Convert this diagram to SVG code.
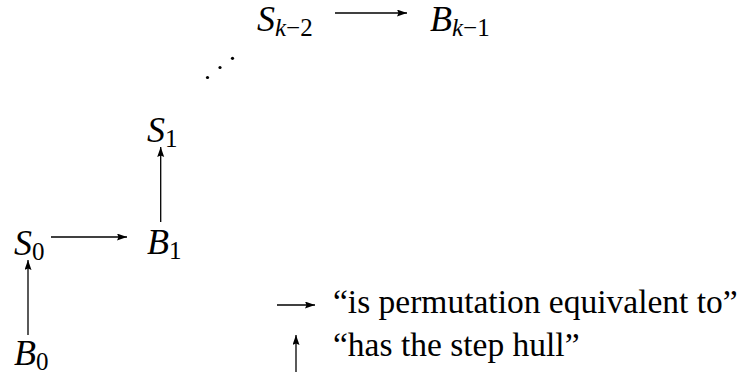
<svg xmlns="http://www.w3.org/2000/svg" width="746" height="379" viewBox="0 0 746 379">
<style>
.m{font-style:italic;font-size:36px;fill:#000}
.s{font-size:25px}
.r{font-style:normal}
.t{font-size:33.5px;fill:#000}
.c{stroke:#000;stroke-width:1.3;fill:none;marker-end:url(#ah)}
</style>
<defs>
<marker id="ah" markerUnits="userSpaceOnUse" markerWidth="11" markerHeight="8" refX="10" refY="3.5" orient="auto">
<path d="M0,0 L10,3.5 L0,7 L1.5,3.5 z" fill="#000"/>
</marker>
</defs>
<g id="B0"><text class="m" font-family="Liberation Serif, serif" x="14" y="365">B<tspan class="s r" dy="5">0</tspan></text></g>
<g id="S0"><text class="m" font-family="Liberation Serif, serif" x="14" y="255">S<tspan class="s r" dy="5">0</tspan></text></g>
<g id="B1"><text class="m" font-family="Liberation Serif, serif" x="147" y="254">B<tspan class="s r" dy="5">1</tspan></text></g>
<g id="S1"><text class="m" font-family="Liberation Serif, serif" x="147" y="142">S<tspan class="s r" dy="5">1</tspan></text></g>
<g id="Sk2"><text class="m" font-family="Liberation Serif, serif" x="257" y="31">S<tspan class="s" dy="5">k</tspan><tspan class="s r">−2</tspan></text></g>
<g id="Bk1"><text class="m" font-family="Liberation Serif, serif" x="430" y="31">B<tspan class="s" dy="5">k</tspan><tspan class="s r">−1</tspan></text></g>
<g id="dots" fill="#000">
<circle cx="207.5" cy="77.5" r="1.6"/>
<circle cx="220" cy="67.5" r="1.6"/>
<circle cx="232.5" cy="58.3" r="1.6"/>
</g>
<g id="connectors">
<line class="c" x1="28" y1="335" x2="28" y2="260"/>
<line class="c" x1="51" y1="237" x2="127" y2="237"/>
<line class="c" x1="160.7" y1="222" x2="160.7" y2="147"/>
<line class="c" x1="335" y1="13" x2="407" y2="13"/>
</g>
<g id="legend">
<line class="c" x1="277" y1="305" x2="315" y2="305"/>
<line class="c" x1="296" y1="372" x2="296" y2="335"/>
<text class="t" font-family="Liberation Serif, serif" x="333" y="313">“is permutation equivalent to”</text>
<text class="t" font-family="Liberation Serif, serif" x="333" y="356">“has the step hull”</text>
</g>
</svg>
